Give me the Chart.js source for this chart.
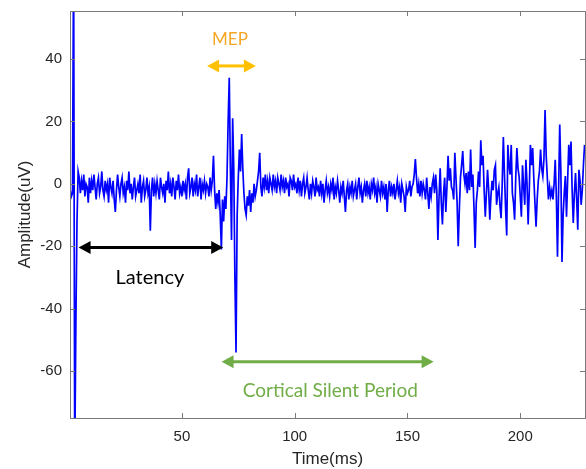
<!DOCTYPE html>
<html>
<head>
<meta charset="utf-8">
<script src="https://cdn.jsdelivr.net/npm/chart.js@4"></script>
<style>
  html, body { margin: 0; padding: 0; background: #fff; }
  #wrap { width: 586px; height: 469px; }
</style>
</head>
<body>
<div id="wrap"><canvas id="emgChart" width="586" height="469"></canvas></div>
<script>
// sampling grid of the trace (ms)
const timeStart = 0.5;
const timeStep = 0.5;

// amplitude (uV), one value every 0.5 ms
const amplitude = [
  -2, -4, -3, 75, -90, -45, -12, 4, 2, -3,
  1, -2, 3, -4, 0, -1, -6, 2, -3, 1,
  -2, 3, -1, -5, 0, 2, -3, -1, 4, -2,
  -4, 1, -2, 0, -6, 2, -1, -3, 1, -5,
  -9, -2, 3, -1, -4, 0, 2, -3, -1, -6,
  1, -2, 4, -3, 0, -5, -1, 2, -4, -2,
  0, -3, 3, -6, -1, 1, -4, -2, 2, -3,
  -1, -15, -2, 2, -4, 0, -3, 1, -2, -5,
  2, -1, -3, 0, -6, 1, -2, 4, -3, 0,
  -4, 2, -1, -5, 1, -2, 3, -3, -1, -4,
  1, -2, 0, -5, 2, 5, -3, -1, 2, -4,
  0, -2, 3, -4, -1, 2, -5, 0, -2, 1,
  -3, 0, -1, -4, 2, -2, 1, 9, -2, -8,
  -3, -6, -2, -10, -21, -5, -12, -4, -8, 2,
  20, 34, 5, -18, 21, 5, -30, -54, -10, 2,
  11, 4, 16, 5, -3, -8, -10, -4, -7, -2,
  -9, -3, -6, 0, -4, -2, 1, 4, 10, -1,
  -4, 2, -1, 3, -2, 1, -3, 2, 0, -2,
  3, -1, 1, -3, 2, 0, -2, 3, -1, 1,
  -3, 2, -1, 0, -4, 2, 1, -2, 3, -1,
  0, -3, 2, -2, 1, -4, 0, 2, -3, -1,
  2, -2, -5, 0, -3, 1, -1, -4, 2, -2,
  -1, -4, 1, -3, 0, -6, -2, 1, -3, -1,
  -4, 0, -2, 2, -5, -1, -3, 1, -2, -6,
  -1, -3, 1, -4, -9, -2, 0, -5, -1, -3,
  1, -4, -2, 0, -5, -1, 2, -3, -1, -6,
  -2, 0, -4, 1, -3, -1, -5, 0, -2, 2,
  -3, -1, -6, 0, -2, -4, 1, -3, -1, -5,
  0, -9, -2, 1, -4, -1, -3, 0, -5, -2,
  1, -3, -1, -6, 0, -2, -4, -9, -1, -3,
  -2, 1, -4, -1, 0, 3, 8, 2, -3, 0,
  -4, 1, -3, 0, -2, -5, 2, -3, -8, -1,
  -4, 0, 2, -3, 3, -2, -18, -4, 5, -6,
  -13, -3, 2, -9, -1, 9, 1, 5, -1, -2,
  -5, 10, 2, -6, -20, -8, 2, 6, 10.5, 3,
  0, 3.5, -3, 4, -2, 11, -1, 3, -8, -20.5,
  -6, -2, 4, -1, 14, 6, 9, -2, -10.5, -3,
  4.5, -2, -11.5, -4, 1, -2, 4.5, 6, -6.7, -3,
  -1, -7, -11, 0, 15, 3, -8, -16.5, 12.5, 6,
  3, 12.5, -3, -6, -11.5, 2, 11.5, 5, 2.3, -4,
  -10.5, 6, -1, -6.7, 7.7, 0, -13, -2, 12.5, 6,
  11.5, 2, -6, -13.7, -5, 1, 4, 11, 5, 2.5,
  8, 23.7, 9, 2, -5, -1, -4, -2, -5, 0,
  7.7, -4, -23.3, -2, 19, 4, -25, -10, -3, 2.5,
  -10.5, 1, 12.5, 6, 13.6, -2, -12.5, -3, 3.5, -5,
  -14.7, 4.5, 1, -6.7, -2, 6, 12.5
];

// axis ranges and tick values
const xRange = [0.4, 228.7];
const yRange = [-75, 55.4];
const xTicks = [50, 100, 150, 200];
const yTicks = [-60, -40, -20, 0, 20, 40];

// annotations: arrow spans (ms), arrow level (uV), label anchor
const noteText = ['MEP', 'Latency', 'Cortical Silent Period'];
const noteFrom = [61.2, 4.2, 67.6];
const noteTo = [82.8, 68.3, 161.6];
const noteLevel = [37.8, -20.4, -57.0];
const noteLabelX = [71.3, 35.8, 115.8];
const noteLabelY = [44.6, -32.1, -68.3];

const arrowColors = ['#ffc000', '#000000', '#70ad47'];
const textColors = ['#f5a623', '#000000', '#70ad47'];
const textSizes = [17, 20, 19];

const points = amplitude.map((v, i) => ({ x: timeStart + i * timeStep, y: v }));

function drawArrow(ctx, x1, x2, y, color) {
  const head = 12, half = 6.5;
  ctx.save();
  ctx.strokeStyle = color;
  ctx.fillStyle = color;
  ctx.lineWidth = 3;
  ctx.beginPath();
  ctx.moveTo(x1 + head - 1, y);
  ctx.lineTo(x2 - head + 1, y);
  ctx.stroke();
  ctx.beginPath();
  ctx.moveTo(x1, y);
  ctx.lineTo(x1 + head, y - half);
  ctx.lineTo(x1 + head, y + half);
  ctx.closePath();
  ctx.fill();
  ctx.beginPath();
  ctx.moveTo(x2, y);
  ctx.lineTo(x2 - head, y - half);
  ctx.lineTo(x2 - head, y + half);
  ctx.closePath();
  ctx.fill();
  ctx.restore();
}

// box with inward ticks on all four sides, plus the arrows and notes
const matlabBox = {
  id: 'matlabBox',
  afterDraw(chart) {
    const { ctx, chartArea: a, scales } = chart;
    const xs = scales.x, ys = scales.y;
    ctx.save();
    ctx.strokeStyle = '#7a7a7a';
    ctx.lineWidth = 1;
    ctx.strokeRect(a.left + 0.5, a.top + 0.5, a.right - a.left, a.bottom - a.top);
    ctx.beginPath();
    xTicks.forEach((t) => {
      const px = Math.round(xs.getPixelForValue(t)) + 0.5;
      ctx.moveTo(px, a.bottom); ctx.lineTo(px, a.bottom - 5);
      ctx.moveTo(px, a.top); ctx.lineTo(px, a.top + 5);
    });
    yTicks.forEach((t) => {
      const py = Math.round(ys.getPixelForValue(t)) + 0.5;
      ctx.moveTo(a.left, py); ctx.lineTo(a.left + 5, py);
      ctx.moveTo(a.right, py); ctx.lineTo(a.right - 5, py);
    });
    ctx.stroke();
    ctx.restore();

    noteText.forEach((txt, i) => {
      const x1 = xs.getPixelForValue(noteFrom[i]);
      const x2 = xs.getPixelForValue(noteTo[i]);
      const y = ys.getPixelForValue(noteLevel[i]);
      drawArrow(ctx, x1, x2, y, arrowColors[i]);
      ctx.save();
      ctx.font = textSizes[i] + 'px Lato, "Open Sans", sans-serif';
      ctx.fillStyle = textColors[i];
      ctx.textAlign = 'center';
      ctx.textBaseline = 'alphabetic';
      ctx.fillText(txt, xs.getPixelForValue(noteLabelX[i]), ys.getPixelForValue(noteLabelY[i]));
      ctx.restore();
    });
  }
};

const tickFont = { family: '"Liberation Sans", Arial, sans-serif', size: 15 };
const titleFont = { family: '"Liberation Sans", Arial, sans-serif', size: 17 };

const config = {
  type: 'line',
  data: {
    datasets: [{
      data: points,
      borderColor: '#0000ff',
      borderWidth: 1.7,
      pointRadius: 0,
      tension: 0,
      fill: false
    }]
  },
  options: {
    responsive: false,
    animation: false,
    devicePixelRatio: 1,
    layout: { padding: { top: 11, right: 1, bottom: 0, left: 0 } },
    plugins: { legend: { display: false }, tooltip: { enabled: false } },
    scales: {
      x: {
        type: 'linear',
        min: xRange[0],
        max: xRange[1],
        afterBuildTicks: (s) => { s.ticks = xTicks.map((v) => ({ value: v })); },
        afterFit: (s) => { s.height = 51; s.paddingLeft = 0; s.paddingRight = 0; },
        grid: { display: false, drawTicks: false },
        border: { display: false },
        ticks: { color: '#262626', font: tickFont, padding: 10, maxRotation: 0 },
        title: { display: true, text: 'Time(ms)', color: '#262626', font: titleFont, padding: { top: 0, bottom: -1 } }
      },
      y: {
        min: yRange[0],
        max: yRange[1],
        afterBuildTicks: (s) => { s.ticks = yTicks.map((v) => ({ value: v })); },
        afterFit: (s) => { s.width = 70; s.paddingTop = 0; s.paddingBottom = 0; },
        grid: { display: false, drawTicks: false },
        border: { display: false },
        ticks: { color: '#262626', font: tickFont, padding: 8 },
        title: { display: true, text: 'Amplitude(uV)', color: '#262626', font: titleFont, padding: { top: 15, bottom: 0 } }
      }
    }
  },
  plugins: [matlabBox]
};

const ctx = document.getElementById('emgChart').getContext('2d');
const emgChart = new Chart(ctx, config);
</script>
</body>
</html>
